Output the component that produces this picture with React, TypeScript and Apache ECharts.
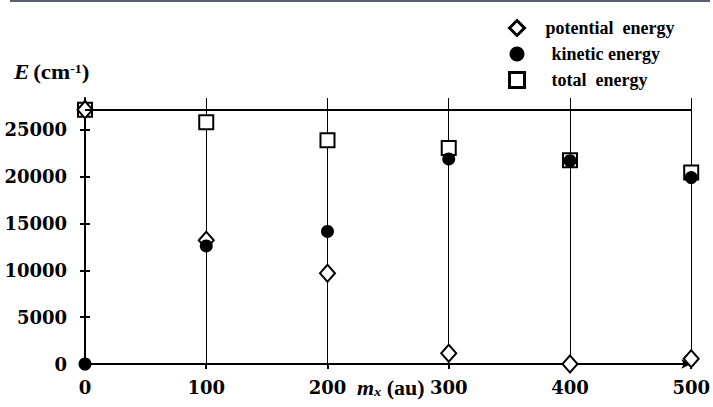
import React, { useEffect, useRef } from "react";
import * as echarts from "echarts";

const massValues = [0, 100, 200, 300, 400, 500];
const potentialEnergy = [27150, 13200, 9700, 1150, 0, 550];
const kineticEnergy = [0, 12600, 14150, 21900, 21700, 19900];
const totalEnergy = [27150, 25800, 23900, 23050, 21750, 20450];
const referenceLevel = 27150;
const yTickValues = [0, 5000, 10000, 15000, 20000, 25000];
const seriesNames = ["potential  energy", "kinetic energy", "total  energy"];

const pairs = (ys: number[]) => massValues.map((x, i) => [x, ys[i]]);

export default function App() {
  const ref = useRef<HTMLDivElement>(null);
  useEffect(() => {
    if (!ref.current) return;
    const chart = echarts.init(ref.current, undefined, { renderer: "svg" });
    const tickFont = {
      fontFamily: "DejaVu Serif",
      fontWeight: "bold" as const,
      fontSize: 18,
      color: "#000",
      formatter: (v: number) => String(v),
    };
    const serif = "Liberation Serif";
    chart.setOption({
      animation: false,
      backgroundColor: "#fff",
      grid: { left: 85, right: 20, top: 98, bottom: 43, containLabel: false },
      legend: {
        orient: "vertical",
        left: 503,
        top: 14,
        itemWidth: 15,
        itemHeight: 15,
        itemGap: 8,
        selectedMode: false,
        textStyle: {
          fontFamily: serif,
          fontWeight: "bold",
          fontSize: 18,
          color: "#000",
        },
        data: [
          {
            name: seriesNames[0],
            icon: "diamond",
            itemStyle: { color: "#fff", borderColor: "#000", borderWidth: 3 },
            textStyle: { padding: [0, 0, 0, 16] },
          },
          {
            name: seriesNames[1],
            icon: "circle",
            itemStyle: { color: "#000", borderWidth: 0 },
            textStyle: { padding: [0, 0, 0, 22] },
          },
          {
            name: seriesNames[2],
            icon: "rect",
            itemStyle: { color: "#fff", borderColor: "#000", borderWidth: 3 },
            textStyle: { padding: [0, 0, 0, 22] },
          },
        ],
      },
      xAxis: {
        type: "value",
        min: 0,
        max: 500,
        interval: 100,
        axisLine: {
          show: true,
          lineStyle: { color: "#000", width: 2 },
          symbol: ["none", "arrow"],
          symbolSize: [7, 10],
        },
        axisTick: { show: true, length: 5, lineStyle: { color: "#000", width: 2 } },
        axisLabel: { ...tickFont, margin: 14 },
        splitLine: { show: true, lineStyle: { color: "#000", width: 1 } },
      },
      yAxis: [
        {
          type: "value",
          position: "left",
          min: 0,
          max: 28400,
          interval: 5000,
          axisLine: {
            show: true,
            lineStyle: { color: "#000", width: 2 },
            symbol: ["none", "arrow"],
            symbolSize: [7, 10],
          },
          axisTick: {
            show: true,
            length: 5,
            customValues: yTickValues,
            lineStyle: { color: "#000", width: 2 },
          },
          axisLabel: { ...tickFont, margin: 18, customValues: yTickValues },
          splitLine: { show: false },
        },
        {
          type: "value",
          position: "left",
          offset: 0,
          min: 0,
          max: 28400,
          interval: 5000,
          axisLine: { show: false },
          axisTick: {
            show: true,
            inside: true,
            length: 5,
            customValues: yTickValues,
            lineStyle: { color: "#000", width: 2 },
          },
          axisLabel: { show: false },
          splitLine: { show: false },
        },
      ],
      series: [
        {
          name: seriesNames[2],
          type: "scatter",
          yAxisIndex: 0,
          symbol: "rect",
          symbolSize: 14,
          itemStyle: { color: "#fff", borderColor: "#000", borderWidth: 2, opacity: 1 },
          data: pairs(totalEnergy),
          z: 3,
          markLine: {
            silent: true,
            symbol: "none",
            label: { show: false },
            lineStyle: { color: "#000", width: 2, type: "solid" },
            data: [{ yAxis: referenceLevel }],
          },
        },
        {
          name: seriesNames[0],
          type: "scatter",
          yAxisIndex: 0,
          symbol: "diamond",
          symbolSize: [15, 17],
          itemStyle: { color: "#fff", borderColor: "#000", borderWidth: 2, opacity: 1 },
          data: pairs(potentialEnergy),
          z: 4,
        },
        {
          name: seriesNames[1],
          type: "scatter",
          yAxisIndex: 0,
          symbol: "circle",
          symbolSize: 13,
          itemStyle: { color: "#000", opacity: 1 },
          data: pairs(kineticEnergy),
          z: 5,
        },
      ],
      graphic: [
        {
          type: "rect",
          x: 10,
          y: 0,
          shape: { width: 700, height: 2 },
          style: { fill: "#595e6e" },
        },
        {
          type: "text",
          x: 14,
          y: 73,
          scaleX: 1.15,
          style: {
            text: "{e|E} {n|(cm}{sup|-1}{n|)}",
            verticalAlign: "middle",
            rich: {
              e: { fontFamily: serif, fontStyle: "italic", fontWeight: "bold", fontSize: 20, fill: "#000" },
              n: { fontFamily: serif, fontWeight: "bold", fontSize: 20, fill: "#000" },
              sup: { fontFamily: serif, fontWeight: "bold", fontSize: 12, fill: "#000", verticalAlign: "top" },
            },
          },
        },
        {
          type: "text",
          x: 357,
          y: 388,
          scaleX: 1.1,
          style: {
            text: "{m|m}{sub|x}{n| (au)}",
            verticalAlign: "middle",
            rich: {
              m: { fontFamily: serif, fontStyle: "italic", fontWeight: "bold", fontSize: 20, fill: "#000" },
              sub: { fontFamily: serif, fontStyle: "italic", fontWeight: "bold", fontSize: 13, fill: "#000", verticalAlign: "bottom" },
              n: { fontFamily: serif, fontWeight: "bold", fontSize: 20, fill: "#000" },
            },
          },
        },
      ],
    });
    return () => chart.dispose();
  }, []);
  return <div ref={ref} style={{ width: 713, height: 407, position: "absolute", left: 0, top: 0 }} />;
}
